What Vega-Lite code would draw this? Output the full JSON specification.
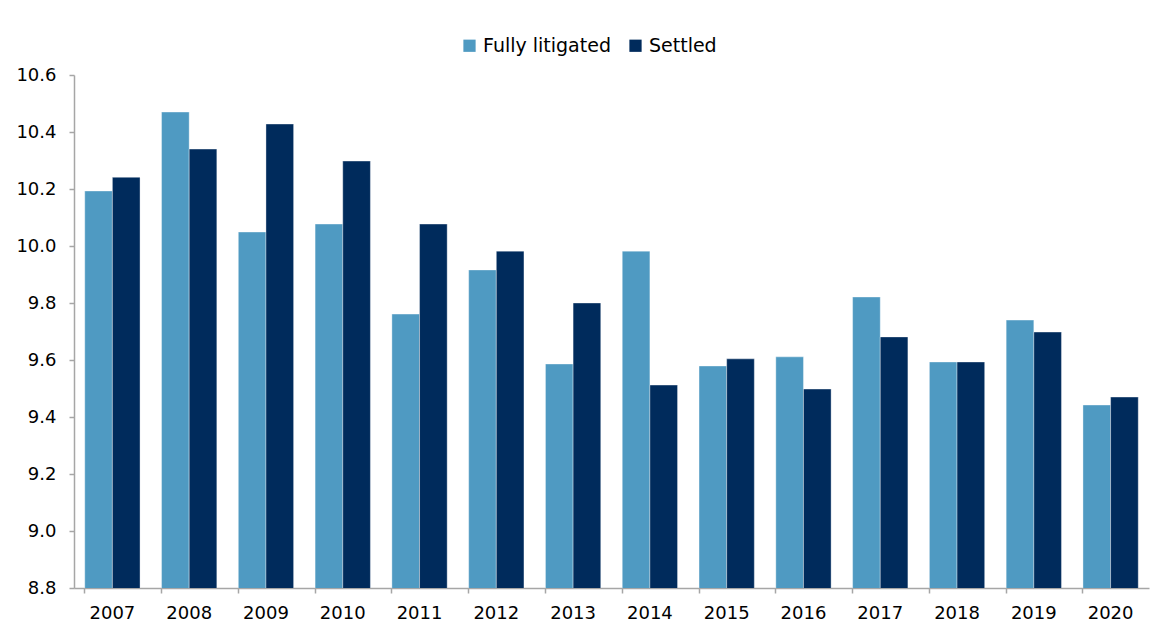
{
  "$schema": "https://vega.github.io/schema/vega-lite/v6.json",
  "autosize": {"type": "none"},
  "width": 1075,
  "height": 513,
  "padding": {"left": 74, "top": 75, "right": 7, "bottom": 35},
  "background": "white",
  "data": {
    "values": [
      {"year": "2007", "type": "Fully litigated", "value": 10.193},
      {"year": "2007", "type": "Settled", "value": 10.241},
      {"year": "2008", "type": "Fully litigated", "value": 10.47},
      {"year": "2008", "type": "Settled", "value": 10.34},
      {"year": "2009", "type": "Fully litigated", "value": 10.049},
      {"year": "2009", "type": "Settled", "value": 10.428},
      {"year": "2010", "type": "Fully litigated", "value": 10.077},
      {"year": "2010", "type": "Settled", "value": 10.298},
      {"year": "2011", "type": "Fully litigated", "value": 9.761},
      {"year": "2011", "type": "Settled", "value": 10.077},
      {"year": "2012", "type": "Fully litigated", "value": 9.916},
      {"year": "2012", "type": "Settled", "value": 9.982},
      {"year": "2013", "type": "Fully litigated", "value": 9.586},
      {"year": "2013", "type": "Settled", "value": 9.8},
      {"year": "2014", "type": "Fully litigated", "value": 9.982},
      {"year": "2014", "type": "Settled", "value": 9.512},
      {"year": "2015", "type": "Fully litigated", "value": 9.579},
      {"year": "2015", "type": "Settled", "value": 9.604},
      {"year": "2016", "type": "Fully litigated", "value": 9.611},
      {"year": "2016", "type": "Settled", "value": 9.498},
      {"year": "2017", "type": "Fully litigated", "value": 9.821},
      {"year": "2017", "type": "Settled", "value": 9.681},
      {"year": "2018", "type": "Fully litigated", "value": 9.593},
      {"year": "2018", "type": "Settled", "value": 9.593},
      {"year": "2019", "type": "Fully litigated", "value": 9.74},
      {"year": "2019", "type": "Settled", "value": 9.698},
      {"year": "2020", "type": "Fully litigated", "value": 9.442},
      {"year": "2020", "type": "Settled", "value": 9.47}
    ]
  },
  "mark": {"type": "bar", "clip": true, "stroke": "white", "strokeWidth": 0.6, "strokeOpacity": 0.6},
  "encoding": {
    "x": {
      "field": "year",
      "type": "nominal",
      "title": null,
      "scale": {"paddingInner": 0.28, "paddingOuter": 0.14},
      "axis": {
        "labelAngle": 0,
        "labelFont": "DejaVu Sans",
        "labelFontSize": 18,
        "labelColor": "#000000",
        "labelPadding": 11,
        "bandPosition": 0,
        "domainColor": "#a6a6a6",
        "domainWidth": 1.5,
        "tickColor": "#a6a6a6",
        "tickWidth": 1.5,
        "tickSize": 5,
        "grid": false
      }
    },
    "xOffset": {"field": "type", "type": "nominal", "sort": ["Fully litigated", "Settled"]},
    "y": {
      "field": "value",
      "type": "quantitative",
      "title": null,
      "scale": {"domain": [8.8, 10.6], "zero": false, "nice": false},
      "axis": {
        "values": [8.8, 9.0, 9.2, 9.4, 9.6, 9.8, 10.0, 10.2, 10.4, 10.6],
        "format": ".1f",
        "labelFont": "DejaVu Sans",
        "labelFontSize": 18,
        "labelColor": "#000000",
        "labelPadding": 13,
        "domainColor": "#a6a6a6",
        "domainWidth": 1.5,
        "tickColor": "#a6a6a6",
        "tickWidth": 1.5,
        "tickSize": 5,
        "grid": false
      }
    },
    "color": {
      "field": "type",
      "type": "nominal",
      "sort": ["Fully litigated", "Settled"],
      "scale": {"domain": ["Fully litigated", "Settled"], "range": ["#4f9ac2", "#002b5c"]},
      "legend": {
        "title": null,
        "orient": "none",
        "direction": "horizontal",
        "legendX": 386,
        "legendY": -39,
        "symbolType": "square",
        "symbolSize": 150,
        "symbolStrokeWidth": 0,
        "labelFont": "DejaVu Sans",
        "labelFontSize": 19,
        "labelColor": "#000000",
        "labelOffset": 4,
        "columnPadding": 15
      }
    }
  },
  "config": {"view": {"stroke": null}}
}
